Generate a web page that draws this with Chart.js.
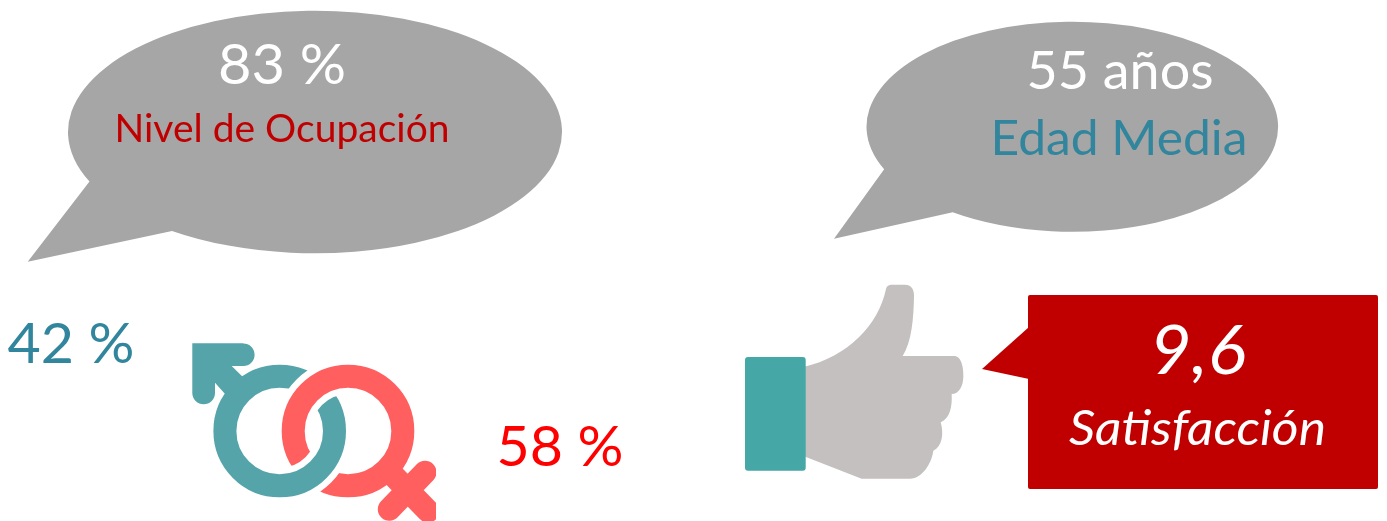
<!DOCTYPE html>
<html lang="es">
<head>
<meta charset="utf-8">
<title>Indicadores</title>
<script src="https://cdn.jsdelivr.net/npm/chart.js@4"></script>
<style>
  html, body { margin: 0; padding: 0; background: #fff; }
  canvas { display: block; }
</style>
</head>
<body>
<canvas id="c" width="1387" height="521"></canvas>
<script>
// Indicator values and captions
const statCategories = ['Nivel de Ocupación', 'Edad Media', 'Satisfacción'];
const statValues = [83, 55, 9.6];
const genderValues = [42, 58];

const GREY = '#a6a6a6', DARK_RED = '#c00000', BLUE = '#31859c', RED = '#ff0000';
const MALE = '#55a4a9', FEMALE = '#ff5f5f', HAND = '#c4c0bf', CUFF = '#46a7a7';
const FONT = 'Lato, Carlito, Calibri, sans-serif';

const decimal = v => String(v).replace('.', ',');

// Text blocks: content, left edge, baseline, size, colour, italic, target width
const textBlocks = [
  { text: `${statValues[0]} %`, x: 218, y: 84, size: 57, color: '#fff', w: 128 },
  { text: statCategories[0], x: 114.5, y: 142, size: 39, color: DARK_RED, w: 335 },
  { text: `${statValues[1]} años`, x: 1026.5, y: 89, size: 53, color: '#fff', w: 187 },
  { text: statCategories[1], x: 990.5, y: 155, size: 47.5, color: BLUE, w: 257 },
  { text: `${genderValues[0]} %`, x: 7.5, y: 363, size: 57, color: BLUE, w: 127 },
  { text: `${genderValues[1]} %`, x: 496.5, y: 466, size: 57, color: RED, w: 127 },
  { text: decimal(statValues[2]), x: 1150, y: 374, size: 68, color: '#fff', italic: true, w: 96 },
  { text: statCategories[2], x: 1069, y: 445, size: 48, color: '#fff', italic: true, w: 257 }
];

// Speech bubble: an ellipse opened between two rim points, joined to a tail tip
function bubble(ctx, X, Y, e) {
  const t = p => Math.atan2((p[1] - e.cy) / e.ry, (p[0] - e.cx) / e.rx);
  const sx = X(1) - X(0), sy = Y(1) - Y(0);
  ctx.fillStyle = GREY;
  ctx.beginPath();
  ctx.ellipse(X(e.cx), Y(e.cy), e.rx * sx, e.ry * sy, 0, t(e.a), t(e.b), false);
  ctx.lineTo(X(e.tip[0]), Y(e.tip[1]));
  ctx.closePath();
  ctx.fill();
}

function genderSymbols(ctx, X, Y) {
  const cy = 431, mx = 279.7, fx = 348, r = 54.8, band = 23, halo = 36;
  const ring = (cx, color, width) => {
    ctx.strokeStyle = color; ctx.lineWidth = width;
    ctx.beginPath(); ctx.arc(X(cx), Y(cy), r, 0, Math.PI * 2); ctx.stroke();
  };

  // Male arrow head and shaft
  ctx.fillStyle = MALE;
  ctx.beginPath();
  ctx.moveTo(X(192.3), Y(343.3));
  ctx.lineTo(X(243.3), Y(343.3));
  ctx.arc(X(243.3), Y(354.7), 11.3, -Math.PI / 2, Math.PI / 2);
  ctx.lineTo(X(231.7), Y(366));
  ctx.lineTo(X(252), Y(386));
  ctx.lineTo(X(234), Y(404));
  ctx.lineTo(X(215), Y(382.7));
  ctx.lineTo(X(215), Y(393));
  ctx.arc(X(203.65), Y(393), 11.35, 0, Math.PI);
  ctx.closePath();
  ctx.fill();

  // Female cross and stem, trimmed on the right and bottom edges
  ctx.save();
  ctx.beginPath();
  ctx.rect(X(300), Y(400), X(436) - X(300), Y(521) - Y(400));
  ctx.clip();
  ctx.strokeStyle = FEMALE; ctx.lineWidth = 23; ctx.lineCap = 'round';
  ctx.beginPath();
  ctx.moveTo(X(389.3), Y(509.3)); ctx.lineTo(X(425), Y(472.3));
  ctx.moveTo(X(428), Y(511)); ctx.lineTo(X(388), Y(470));
  ctx.stroke();
  ctx.restore();

  ring(mx, MALE, band);
  ring(fx, FEMALE, band);

  // Interlock: female passes over on the upper crossing, male on the lower one
  ctx.save();
  ctx.beginPath(); ctx.rect(X(200), Y(340), X(220), Y(cy) - Y(340)); ctx.clip();
  ring(fx, '#fff', halo);
  ring(fx, FEMALE, band);
  ctx.restore();
  ctx.save();
  ctx.beginPath(); ctx.rect(X(200), Y(cy), X(220), Y(520) - Y(cy)); ctx.clip();
  ring(mx, '#fff', halo);
  ring(mx, MALE, band);
  ctx.restore();
}

function thumb(ctx, X, Y) {
  const P = (x, y) => [X(735 + x / 3), Y(275 + y / 3)];
  const C = (a, b, c, d, e, f) => ctx.bezierCurveTo(...P(a, b), ...P(c, d), ...P(e, f));
  ctx.fillStyle = HAND;
  ctx.beginPath();
  ctx.moveTo(...P(205, 276));
  C(340, 245, 430, 150, 453, 42);
  C(455, 32, 462, 29, 472, 29);
  ctx.lineTo(...P(510, 29));
  C(528, 29, 537, 42, 537, 62);
  C(536, 130, 530, 200, 503, 243);
  ctx.lineTo(...P(660, 243));
  C(678, 245, 686, 275, 685, 305);
  C(684, 335, 672, 356, 650, 357);
  C(652, 395, 645, 430, 617, 442);
  C(627, 475, 622, 515, 595, 527);
  C(590, 565, 562, 610, 525, 611);
  ctx.lineTo(...P(380, 611));
  ctx.lineTo(...P(205, 543));
  ctx.closePath();
  ctx.fill();

  ctx.fillStyle = CUFF;
  ctx.beginPath();
  ctx.roundRect(X(745), Y(357), X(805.7) - X(745), Y(470.7) - Y(357), 3);
  ctx.fill();
}

function satisfactionBox(ctx, X, Y) {
  ctx.fillStyle = DARK_RED;
  ctx.beginPath();
  ctx.roundRect(X(1028), Y(295), X(1378) - X(1028), Y(489) - Y(295), 2);
  ctx.fill();
  ctx.beginPath();
  ctx.moveTo(X(1029), Y(327));
  ctx.lineTo(X(982), Y(369));
  ctx.lineTo(X(1029), Y(379));
  ctx.closePath();
  ctx.fill();
}

function drawText(ctx, X, Y) {
  ctx.textBaseline = 'alphabetic';
  ctx.textAlign = 'left';
  for (const b of textBlocks) {
    ctx.save();
    ctx.font = `${b.italic ? 'italic ' : ''}${b.size}px ${FONT}`;
    ctx.fillStyle = b.color;
    const k = b.w / ctx.measureText(b.text).width;
    ctx.translate(X(b.x), Y(b.y));
    ctx.scale(k, 1);
    ctx.fillText(b.text, 0, 0);
    ctx.restore();
  }
}

const infographic = {
  id: 'infographic',
  afterDatasetsDraw(chart) {
    const ctx = chart.ctx;
    const X = v => chart.scales.x.getPixelForValue(v);
    const Y = v => chart.scales.y.getPixelForValue(v);
    ctx.save();
    bubble(ctx, X, Y, { cx: 315, cy: 132, rx: 247, ry: 121.3, a: [88.5, 181.7], b: [172.3, 230.7], tip: [27.7, 261.7] });
    bubble(ctx, X, Y, { cx: 1072.3, cy: 126.7, rx: 205.8, ry: 105, a: [884, 169.3], b: [953.3, 211.7], tip: [834, 238.7] });
    genderSymbols(ctx, X, Y);
    thumb(ctx, X, Y);
    satisfactionBox(ctx, X, Y);
    drawText(ctx, X, Y);
    ctx.restore();
  }
};

function render() {
  new Chart(document.getElementById('c'), {
    type: 'scatter',
    data: { datasets: [] },
    options: {
      responsive: false,
      animation: false,
      layout: { padding: 0 },
      plugins: { legend: { display: false }, tooltip: { enabled: false } },
      scales: {
        x: { type: 'linear', display: false, min: 0, max: 1387 },
        y: { type: 'linear', display: false, min: 0, max: 521, reverse: true }
      }
    },
    plugins: [infographic]
  });
}

// Fonts are local but load lazily, so request them before the first draw
Promise.all([
  document.fonts.load(`56px Lato`),
  document.fonts.load(`italic 56px Lato`)
]).then(render, render);
</script>
</body>
</html>
